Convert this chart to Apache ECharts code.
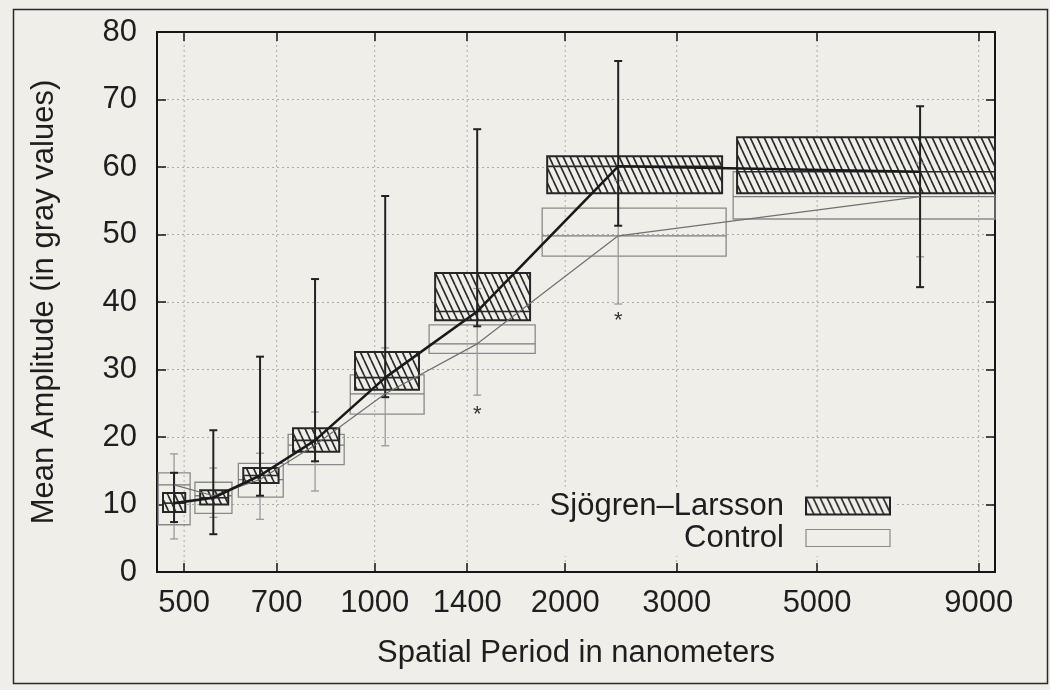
<!DOCTYPE html>
<html><head><meta charset="utf-8">
<script src="https://cdn.jsdelivr.net/npm/echarts@6/dist/echarts.min.js"></script>
<style>html,body{margin:0;padding:0;background:#efeee9}#c{width:1050px;height:690px}</style>
</head><body><div id="c"></div>
<script>
// ---- data (spatial period in nm, amplitude in gray values) ----
const xTickValues = [500, 700, 1000, 1400, 2000, 3000, 5000, 9000];
const xTickLabels = ['500', '700', '1000', '1400', '2000', '3000', '5000', '9000'];
const groupX = [482, 556, 659, 805, 1039, 1452, 2425, 7272];

const slBoxLeft  = [463, 530, 620, 743, 931, 1246, 1873, 3737];
const slBoxRight = [502, 587, 705, 879, 1175, 1760, 3539, 9550];
const slBoxLow   = [8.9, 10.0, 13.2, 17.8, 27.0, 37.3, 56.1, 56.1];
const slBoxHigh  = [11.7, 12.1, 15.4, 21.3, 32.6, 44.3, 61.6, 64.4];
const slMean     = [10.2, 11.0, 14.3, 19.5, 28.8, 38.6, 60.1, 59.3];
const slWhiskerLow  = [7.4, 5.6, 11.3, 16.4, 25.9, 36.4, 51.3, 42.2];
const slWhiskerHigh = [14.7, 21.0, 31.9, 43.4, 55.7, 65.6, 75.7, 69.0];

const ctBoxLeft  = [455, 520, 609, 730, 915, 1219, 1839, 3684];
const ctBoxRight = [511, 595, 717, 895, 1197, 1793, 3591, 9550];
const ctBoxLow   = [7.0, 8.7, 11.1, 15.9, 23.4, 32.4, 46.8, 52.3];
const ctBoxHigh  = [14.7, 13.3, 16.1, 20.4, 29.2, 36.6, 53.9, 59.3];
const ctMean     = [12.9, 11.3, 13.7, 18.8, 26.4, 33.8, 49.8, 55.6];
const ctWhiskerLow  = [4.9, 8.1, 7.8, 12.0, 18.7, 26.2, 39.7, 46.7];
const ctWhiskerHigh = [17.5, 15.4, 17.6, 23.7, 33.2, 42.0, 58.0, 60.6];

const starX = [1452, 2425];
const starY = [24.0, 37.9];

const X_MIN = 453, X_MAX = 9550, Y_MIN = 0, Y_MAX = 80;

// ---- style ----
const PAPER = '#efeee9';
const INK = '#1e1e1e';
const FONT = "'Liberation Sans', Arial, Helvetica, sans-serif";
const lx = v => Math.log10(v);

function makeHatch() {
  const c = document.createElement('canvas');
  c.width = 7; c.height = 15;
  const g = c.getContext('2d');
  g.fillStyle = PAPER; g.fillRect(0, 0, 7, 15);
  g.strokeStyle = '#2b2b2b'; g.lineWidth = 1.7;
  for (const dx of [-7, 0, 7]) { g.beginPath(); g.moveTo(dx, 0); g.lineTo(dx + 7, 15); g.stroke(); }
  return c;
}
const hatch = { image: makeHatch(), repeat: 'repeat' };

function boxRender(fill, stroke, lw, meanStroke, meanLw) {
  return (params, api) => {
    const tl = api.coord([api.value(0), api.value(3)]);
    const br = api.coord([api.value(1), api.value(2)]);
    const m = api.coord([api.value(0), api.value(4)]);
    return { type: 'group', children: [
      { type: 'rect', shape: { x: tl[0], y: tl[1], width: br[0] - tl[0], height: br[1] - tl[1] },
        style: { fill: fill, stroke: stroke, lineWidth: lw } },
      { type: 'line', shape: { x1: tl[0], y1: m[1], x2: br[0], y2: m[1] },
        style: { stroke: meanStroke, lineWidth: meanLw } }
    ]};
  };
}
function whiskerRender(stroke, lw, cap) {
  return (params, api) => {
    const lo = api.coord([api.value(0), api.value(1)]);
    const hi = api.coord([api.value(0), api.value(2)]);
    return { type: 'group', children: [
      { type: 'line', shape: { x1: lo[0], y1: lo[1], x2: hi[0], y2: hi[1] }, style: { stroke, lineWidth: lw } },
      { type: 'line', shape: { x1: lo[0] - cap, y1: lo[1], x2: lo[0] + cap, y2: lo[1] }, style: { stroke, lineWidth: lw } },
      { type: 'line', shape: { x1: hi[0] - cap, y1: hi[1], x2: hi[0] + cap, y2: hi[1] }, style: { stroke, lineWidth: lw } }
    ]};
  };
}

const slBoxes = groupX.map((_, i) => [lx(slBoxLeft[i]), lx(slBoxRight[i]), slBoxLow[i], slBoxHigh[i], slMean[i]]);
const ctBoxes = groupX.map((_, i) => [lx(ctBoxLeft[i]), lx(ctBoxRight[i]), ctBoxLow[i], ctBoxHigh[i], ctMean[i]]);
const slWhiskers = groupX.map((x, i) => [lx(x), slWhiskerLow[i], slWhiskerHigh[i]]);
const ctWhiskers = groupX.map((x, i) => [lx(x), ctWhiskerLow[i], ctWhiskerHigh[i]]);
const slLine = groupX.map((x, i) => [lx(x), slMean[i]]);
const ctLine = groupX.map((x, i) => [lx(x), ctMean[i]]);
const stars = starX.map((x, i) => [lx(x), starY[i]]);

const axisLine = { onZero: false, lineStyle: { color: '#151515', width: 2 } };
const tickStyle = { color: '#151515', width: 1.5 };
const labelFmt = v => { const i = xTickValues.findIndex(t => Math.abs(lx(t) - v) < 1e-6); return i >= 0 ? xTickLabels[i] : ''; };

const chart = echarts.init(document.getElementById('c'), null, { renderer: 'canvas' });
chart.setOption({
  animation: false,
  backgroundColor: PAPER,
  textStyle: { fontFamily: FONT },
  grid: { left: 157, right: 55, top: 32, bottom: 118, containLabel: false, outerBoundsMode: 'none' },
  graphic: [{ type: 'rect', left: 11, top: 7, shape: { width: 1034, height: 674 },
              style: { fill: 'none', stroke: '#2a2a2a', lineWidth: 1.5 }, silent: true }],
  legend: {
    orient: 'vertical', right: 153, top: 488, align: 'right',
    itemWidth: 84, itemHeight: 17, itemGap: 0, selectedMode: false,
    backgroundColor: PAPER, padding: [2, 6, 2, 10],
    textStyle: { fontSize: 31, color: INK, fontFamily: FONT, lineHeight: 32, padding: [0, 17, 0, 0] },
    data: [
      { name: 'Sjögren–Larsson', icon: 'rect', itemStyle: { color: hatch, borderColor: '#222', borderWidth: 2 } },
      { name: 'Control', icon: 'rect', itemStyle: { color: PAPER, borderColor: '#8a8a8a', borderWidth: 1.2 } }
    ]
  },
  xAxis: [
    { type: 'value', position: 'bottom', min: lx(X_MIN), max: lx(X_MAX),
      axisLine, axisTick: { inside: true, length: 9, customValues: xTickValues.map(lx), lineStyle: tickStyle },
      axisLabel: { customValues: xTickValues.map(lx), formatter: labelFmt, fontSize: 31, margin: 16, color: INK, fontFamily: FONT },
      splitLine: { show: false },
      name: 'Spatial Period in nanometers', nameLocation: 'middle', nameGap: 66,
      nameTextStyle: { fontSize: 31, color: INK, fontFamily: FONT } },
    { type: 'value', position: 'top', min: lx(X_MIN), max: lx(X_MAX),
      axisLine, axisTick: { inside: true, length: 9, customValues: xTickValues.map(lx), lineStyle: tickStyle },
      axisLabel: { show: false }, splitLine: { show: false } }
  ],
  yAxis: [
    { type: 'value', position: 'left', min: Y_MIN, max: Y_MAX, interval: 10,
      axisLine, axisTick: { inside: true, length: 9, lineStyle: tickStyle },
      axisLabel: { fontSize: 31, margin: 20, color: INK, fontFamily: FONT },
      splitLine: { show: true, lineStyle: { color: '#ababab', type: [2, 3], width: 1 } },
      name: 'Mean Amplitude (in gray values)', nameLocation: 'middle', nameGap: 97,
      nameTextStyle: { fontSize: 31, color: INK, fontFamily: FONT } },
    { type: 'value', position: 'right', min: Y_MIN, max: Y_MAX, interval: 10,
      axisLine, axisTick: { inside: true, length: 9, lineStyle: tickStyle },
      axisLabel: { show: false }, splitLine: { show: false } }
  ],
  series: [
    { type: 'custom', name: 'grid-x', z: 0, silent: true,
      data: xTickValues.map(v => [lx(v)]), encode: { x: 0 },
      renderItem: (params, api) => {
        const a = api.coord([api.value(0), Y_MIN]);
        const b = api.coord([api.value(0), Y_MAX]);
        return { type: 'line', shape: { x1: a[0], y1: a[1], x2: b[0], y2: b[1] },
                 style: { stroke: '#ababab', lineWidth: 1, lineDash: [2, 3] } };
      } },
    { type: 'custom', name: 'Control', z: 1, data: ctBoxes, encode: { x: [0, 1], y: [2, 3, 4] },
      itemStyle: { color: PAPER, borderColor: '#8a8a8a' },
      renderItem: boxRender('rgba(0,0,0,0)', '#8a8a8a', 1.3, '#7a7a7a', 1.3) },
    { type: 'custom', name: 'Sjögren–Larsson', z: 2, data: slBoxes, encode: { x: [0, 1], y: [2, 3, 4] },
      itemStyle: { color: hatch, borderColor: '#222' },
      renderItem: boxRender(hatch, '#262626', 2, '#2a2a2a', 1.6) },
    { type: 'custom', name: 'ct-whisker', z: 3, data: ctWhiskers, encode: { x: 0, y: [1, 2] },
      renderItem: whiskerRender('#9a9a9a', 1.3, 4) },
    { type: 'custom', name: 'sl-whisker', z: 4, data: slWhiskers, encode: { x: 0, y: [1, 2] },
      renderItem: whiskerRender('#222222', 2, 4) },
    { type: 'line', name: 'ct-mean', z: 5, data: ctLine, symbol: 'none', silent: true,
      lineStyle: { color: '#707070', width: 1.2 } },
    { type: 'line', name: 'sl-mean', z: 6, data: slLine, symbol: 'none', silent: true,
      lineStyle: { color: '#1a1a1a', width: 2.6 } },
    { type: 'custom', name: 'stars', z: 7, data: stars, encode: { x: 0, y: 1 },
      renderItem: (params, api) => {
        const p = api.coord([api.value(0), api.value(1)]);
        return { type: 'text', x: p[0], y: p[1] + 5,
                 style: { text: '*', fontSize: 22, fill: '#333', align: 'center', verticalAlign: 'middle', fontFamily: FONT } };
      } }
  ]
});
</script></body></html>
